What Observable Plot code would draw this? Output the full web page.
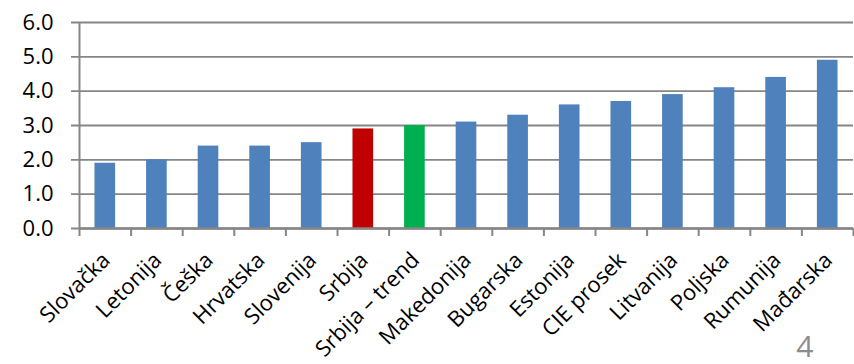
<!DOCTYPE html>
<html>
<head>
<meta charset="utf-8">
<script src="https://cdn.jsdelivr.net/npm/d3@7"></script>
<script src="https://cdn.jsdelivr.net/npm/@observablehq/plot@0.6"></script>
<style>
  body { margin: 0; background: #fff; }
  #chart { width: 854px; height: 364px; overflow: hidden; }
</style>
</head>
<body>
<div id="chart"></div>
<script>
// Countries in the order they are shown, with their values
const countries = ["Slovačka", "Letonija", "Češka", "Hrvatska", "Slovenija", "Srbija", "Srbija – trend",
  "Makedonija", "Bugarska", "Estonija", "CIE prosek", "Litvanija", "Poljska", "Rumunija", "Mađarska"];
const values = [1.9, 2.0, 2.4, 2.4, 2.5, 2.9, 3.0, 3.1, 3.3, 3.6, 3.7, 3.9, 4.1, 4.4, 4.9];
const yTicks = [0, 1, 2, 3, 4, 5, 6];
const pageNumber = "4";

// Serbia's two bars stand out from the rest
const barColors = { "Srbija": "#C00000", "Srbija – trend": "#00B050" };
const defaultColor = "#4F81BD";
const axisGray = "#868686";

const data = countries.map((country, i) => ({ country, index: i, value: values[i] }));
const slots = d3.range(countries.length + 1);          // category boundaries
const centers = countries.map((_, i) => i + 0.5);      // category centres

const chart = Plot.plot({
  width: 854,
  height: 364,
  marginLeft: 79,
  marginRight: 1,
  marginTop: 22,
  marginBottom: 136,
  style: { fontFamily: "'Open Sans', sans-serif", fontSize: "21px", color: "#000", background: "#fff" },
  x: { domain: [0, countries.length], axis: null },
  y: { domain: [0, 6], axis: null },
  marks: [
    Plot.gridY(yTicks, { stroke: axisGray, strokeOpacity: 1, strokeWidth: 1.8, insetLeft: -8 }),
    Plot.rectY(data, {
      x1: d => d.index + 0.3,
      x2: d => d.index + 0.7,
      y: "value",
      fill: d => barColors[d.country] ?? defaultColor
    }),
    Plot.ruleX([0], { stroke: axisGray, strokeWidth: 2 }),
    Plot.ruleY([0], { stroke: axisGray, strokeWidth: 2.5 }),
    Plot.axisY({ ticks: yTicks, tickFormat: d3.format(".1f"), tickSize: 0, tickPadding: 26, fontSize: 22, fill: "#000", label: null }),
    Plot.axisX({ ticks: slots, tickFormat: () => "", tickSize: 8, stroke: axisGray, strokeWidth: 2, label: null }),
    Plot.axisX({
      ticks: centers,
      tickFormat: v => countries[Math.floor(v)],
      tickSize: 0,
      tickPadding: 28,
      tickRotate: -45,
      dx: 1,
      fontSize: 22,
      fill: "#000",
      label: null
    }),
    Plot.text([pageNumber], {
      frameAnchor: "bottom-right",
      dx: -40,
      dy: 128,
      fontSize: 30,
      fill: "#8c8c8c"
    })
  ]
});

document.getElementById("chart").append(chart);
</script>
</body>
</html>
